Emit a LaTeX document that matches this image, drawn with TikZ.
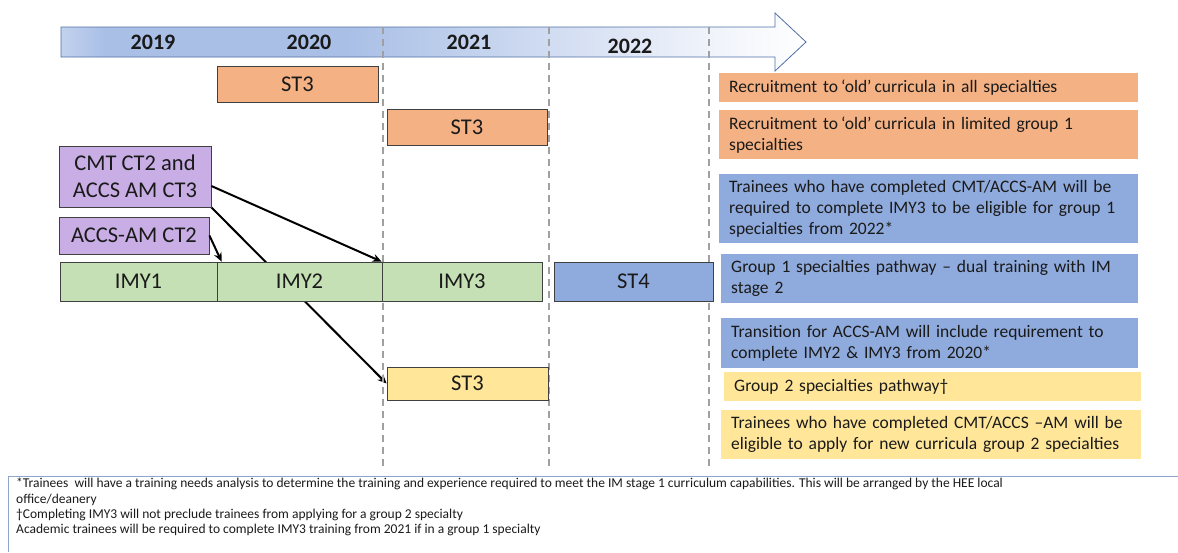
\documentclass[tikz,border=0pt]{standalone}
\usepackage{fontspec}
\setmainfont{Carlito}
\usetikzlibrary{arrows.meta}
\pgfdeclarelayer{bg}
\pgfsetlayers{bg,main}
\definecolor{orangeF}{HTML}{F4B183}
\definecolor{blueF}{HTML}{8FAADC}
\definecolor{greenF}{HTML}{C5E0B4}
\definecolor{yellowF}{HTML}{FFE699}
\definecolor{purpleF}{HTML}{C9AEE6}
\definecolor{bandL}{HTML}{C2D2EE}
\definecolor{bandM}{HTML}{A9BFE6}
\definecolor{bandR}{HTML}{EEF2FA}
\definecolor{bandB}{HTML}{4F6EA5}
\definecolor{boxB}{HTML}{404040}
\definecolor{dashC}{HTML}{A0A0A0}
\definecolor{noteB}{HTML}{8EA6CF}
\definecolor{txt}{HTML}{1A1A1A}
\pgfdeclarehorizontalshading{bandshade}{100bp}{color(0bp)=(bandL); color(25bp)=(bandL); color(28bp)=(bandM); color(44bp)=(bandM); color(68bp)=(bandR); color(75bp)=(white); color(100bp)=(white)}
\newcommand{\oldq}{\hspace{3pt}‘old’\hspace{3pt}}

\begin{document}
\begin{tikzpicture}[x=1pt,y=-1pt,
  big/.style={font=\fontsize{22.5}{27.4}\selectfont, text=txt},
  tbox/.style={big, draw=boxB, line width=0.8pt, inner sep=0pt, align=center},
  pbox/.style={font=\fontsize{17.5}{21}\selectfont, text=txt, inner xsep=10pt, inner ysep=0pt, align=left, anchor=north west},
  yearlbl/.style={font=\fontsize{22}{26}\selectfont\bfseries, text=txt},
  vdash/.style={draw=dashC, line width=1.1pt, dash pattern=on 7pt off 5pt},
  link/.style={draw=black, line width=2pt, -{Stealth[length=9pt,width=8pt]}},
]
\useasboundingbox (0,0) rectangle (1178,552);

% timeline band
\shadedraw[shading=bandshade, draw=bandB, line width=0.8pt]
  (61,27) -- (775,27) -- (775,13) -- (806,42) -- (775,71) -- (775,57) -- (61,57) -- cycle;

% dashed year separators
\draw[vdash] (383,27) -- (383,468);
\draw[vdash] (549,27) -- (549,468);
\draw[vdash] (709,27) -- (709,468);

\node[yearlbl] (y19) at (153,42) {2019};
\node[yearlbl] (y20) at (309,42) {2020};
\node[yearlbl] (y21) at (469,42) {2021};
\node[yearlbl] (y22) at (630,46) {2022};

% left diagram boxes
\node[tbox, fill=orangeF, minimum width=161, minimum height=36] (st3a) at (297.5,84) {ST3};
\node[tbox, fill=orangeF, minimum width=160, minimum height=36] (st3b) at (467,127) {ST3};
\node[tbox, fill=purpleF, minimum width=152, minimum height=61] (cmt) at (135,176.5) {CMT CT2 and\\ACCS AM CT3};
\node[tbox, fill=purpleF, minimum width=150, minimum height=37] (accs) at (134,235.5) {ACCS-AM CT2};
\node[tbox, fill=greenF, minimum width=157, minimum height=39] (imy1) at (138.5,281.5) {IMY1};
\node[tbox, fill=greenF, minimum width=165, minimum height=39] (imy2) at (299.5,281.5) {IMY2};
\node[tbox, fill=greenF, minimum width=160, minimum height=39] (imy3) at (462,281.5) {IMY3};
\node[tbox, fill=blueF, minimum width=159, minimum height=39] (st4) at (633.5,281.5) {ST4};
\node[tbox, fill=yellowF, minimum width=161, minimum height=33] (st3y) at (467.5,383.5) {ST3};

% connectors
\draw[link] ([yshift=-9.5pt]cmt.east) -- (imy3.north west);
\begin{pgfonlayer}{bg}
\draw[link] (cmt.south east) -- (st3y.west);
\end{pgfonlayer}
\draw[link] (accs.east) -- ([xshift=5pt]imy2.north west);

% right-hand panel
\node[pbox, fill=orangeF, text width=399, minimum height=29] (r1) at (719,73)
  {Recruitment to\oldq curricula in all specialties};
\node[pbox, fill=orangeF, text width=399, minimum height=49] (r2) at (719,110)
  {Recruitment to\oldq curricula in limited group 1\\specialties};
\node[pbox, fill=blueF, text width=399, minimum height=69] (r3) at (719,174)
  {Trainees who have completed CMT/ACCS-AM will be\\required to complete IMY3 to be eligible for group 1\\specialties from 2022*};
\node[pbox, fill=blueF, text width=397, minimum height=49] (r4) at (721,254)
  {Group 1 specialties pathway – dual training with IM\\stage 2};
\node[pbox, fill=blueF, text width=397, minimum height=50] (r5) at (721,318)
  {Transition for ACCS-AM will include requirement to\\complete IMY2 \& IMY3 from 2020*};
\node[pbox, fill=yellowF, text width=397, minimum height=29] (r6) at (724,372)
  {Group 2 specialties pathway†};
\node[pbox, fill=yellowF, text width=400, minimum height=49] (r7) at (721,410)
  {Trainees who have completed CMT/ACCS –AM will be\\eligible to apply for new curricula group 2 specialties};

% footnote box
\draw[noteB, line width=0.8pt] (1178,476) -- (8,476) -- (8,552);
\node[anchor=north west, inner sep=0pt, align=left, text=txt,
      font=\fontsize{13.5}{15.3}\selectfont] (note) at (16,478)
  {*Trainees\ \ will have a training needs analysis to determine the training and experience required to meet the IM stage 1 curriculum capabilities. This will be arranged by the HEE local\\
   office/deanery\\
   †Completing IMY3 will not preclude trainees from applying for a group 2 specialty\\
   Academic trainees will be required to complete IMY3 training from 2021 if in a group 1 specialty};
\end{tikzpicture}
\end{document}
